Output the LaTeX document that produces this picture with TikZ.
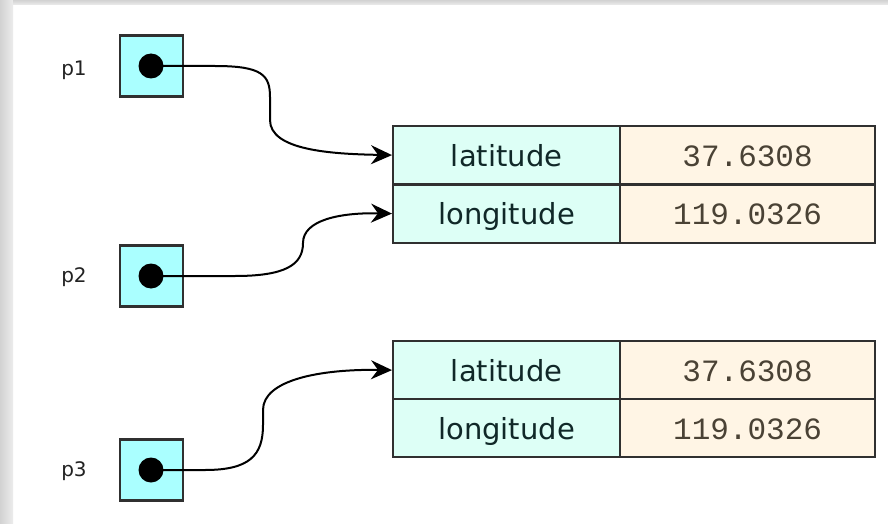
\documentclass[tikz,border=0pt]{standalone}
\usepackage{fontspec}
\setmainfont{DejaVu Sans}
\newfontfamily\monof{Liberation Mono}
\usetikzlibrary{arrows.meta}
\definecolor{ptrfill}{HTML}{AAFFFF}
\definecolor{keyfill}{HTML}{DDFFF6}
\definecolor{valfill}{HTML}{FFF5E5}
\definecolor{edgecol}{HTML}{303030}
\definecolor{valtext}{HTML}{4A4235}
\definecolor{keytext}{HTML}{102828}
\definecolor{lbltext}{HTML}{222222}
\definecolor{framea}{HTML}{D2D2D2}
\definecolor{frameb}{HTML}{ECECEC}
\begin{document}
\begin{tikzpicture}[x=1pt,y=-1pt,
  ptrbox/.style={draw=edgecol,line width=2.2pt,fill=ptrfill,minimum width=63pt,minimum height=61pt,inner sep=0pt},
  dotnode/.style={circle,fill=black,minimum size=25pt,inner sep=0pt},
  keycell/.style={draw=edgecol,line width=2.2pt,fill=keyfill,minimum width=227pt,minimum height=58pt,inner sep=0pt,anchor=north west,text=keytext,text height=22pt,text depth=0pt,font=\fontsize{29}{34}\selectfont},
  valcell/.style={draw=edgecol,line width=2.2pt,fill=valfill,minimum width=255pt,minimum height=58pt,inner sep=0pt,anchor=north west,text=valtext,text height=22pt,text depth=0pt,font=\monof\fontsize{31}{36}\selectfont},
  plabel/.style={text=lbltext,font=\fontsize{20}{24}\selectfont,inner sep=0pt},
  ptr/.style={draw=black,line width=2pt,-{Stealth[length=21pt,width=19pt,inset=7pt]}}
]
\useasboundingbox (0,0) rectangle (888,524);
\fill[white] (0,0) rectangle (888,524);
\shade[left color=framea,right color=frameb] (0,0) rectangle (13,524);
\shade[top color=framea,bottom color=frameb] (13,0) rectangle (888,5);

% pointer boxes
\node[ptrbox] (b1) at (151.5,66) {};
\node[ptrbox] (b2) at (151.5,276) {};
\node[ptrbox] (b3) at (151.5,470) {};
\node[dotnode] (d1) at (151,66) {};
\node[dotnode] (d2) at (151,276) {};
\node[dotnode] (d3) at (151,470) {};
\node[plabel] (l1) at (74,70) {p1};
\node[plabel] (l2) at (74,277) {p2};
\node[plabel] (l3) at (74,471) {p3};

% table 1
\node[keycell] (k1a) at (392,125) {latitude};
\node[valcell] (v1a) at (619,125) {37.6308};
\node[keycell] (k1b) at (392,183.5) {longitude};
\node[valcell] (v1b) at (619,183.5) {119.0326};
% table 2
\node[keycell] (k2a) at (392,340) {latitude};
\node[valcell] (v2a) at (619,340) {37.6308};
\node[keycell] (k2b) at (392,398) {longitude};
\node[valcell] (v2b) at (619,398) {119.0326};

% pointers
\draw[ptr] (d1.center) -- (215,66) .. controls (262,66) and (270,75) .. (270,97) -- (270,120) .. controls (270,150) and (330,154) .. (k1a.west);
\draw[ptr] (d2.center) -- (235,276) .. controls (285,276) and (303,265) .. (303,243) .. controls (303,220) and (340,212.5) .. (k1b.west);
\draw[ptr] (d3.center) -- (205,470) .. controls (250,470) and (263,455) .. (263,425) -- (263,410) .. controls (263,380) and (320,369) .. (k2a.west);
\end{tikzpicture}
\end{document}
